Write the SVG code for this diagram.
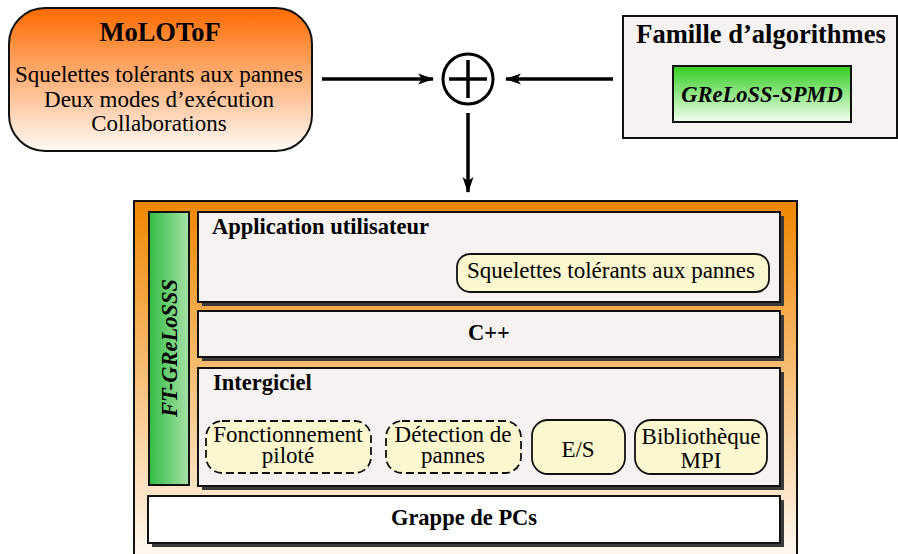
<svg xmlns="http://www.w3.org/2000/svg" width="898" height="554" viewBox="0 0 898 554">
<style>
text{font-family:"Liberation Serif","Times New Roman",serif;fill:#000;font-size:23px}
.b{font-weight:bold}
.bi{font-weight:bold;font-style:italic}
.m{text-anchor:middle}
.layer{fill:#f5f2f1;stroke:#111;stroke-width:2}
.shadow{fill:#3a3a3a}
.pill{fill:#fdf7cf;stroke:#111;stroke-width:1.8}
.dash{stroke-dasharray:8 4}
.conn{stroke:#000;stroke-width:3.5;fill:none}
</style>
<defs>
<linearGradient id="gOr" x1="0" y1="0" x2="0" y2="1"><stop offset="0" stop-color="#ff6a00"/><stop offset="1" stop-color="#fffaf6"/></linearGradient>
<linearGradient id="gOr2" x1="0" y1="0" x2="0" y2="1"><stop offset="0" stop-color="#f08600"/><stop offset="1" stop-color="#fffbf6"/></linearGradient>
<linearGradient id="gGr" x1="0" y1="0" x2="0" y2="1"><stop offset="0" stop-color="#33cc1f"/><stop offset="1" stop-color="#f2fff0"/></linearGradient>
<linearGradient id="gGrH" x1="0" y1="0" x2="1" y2="0"><stop offset="0" stop-color="#33bb44"/><stop offset="1" stop-color="#a6e2a6"/></linearGradient>
<marker id="ah" markerUnits="userSpaceOnUse" markerWidth="20" markerHeight="14" viewBox="-16 -7 18 14" refX="0" refY="0" orient="auto">
<path d="M1,0 L-15,-5.5 L-11,0 L-15,5.5 Z" fill="#000"/>
</marker>
</defs>

<g id="molotof">
<rect x="9" y="8" width="303" height="143" rx="36" fill="url(#gOr)" stroke="#111" stroke-width="2"/>
<text class="b m" x="160" y="41" style="font-size:26.5px">MoLOToF</text>
<text class="m" x="159" y="82">Squelettes tolérants aux pannes</text>
<text class="m" x="159" y="107">Deux modes d’exécution</text>
<text class="m" x="159" y="131">Collaborations</text>
</g>

<g id="plus">
<circle cx="468" cy="79" r="25" fill="#fff" stroke="#000" stroke-width="3"/>
<line x1="449" y1="79" x2="487" y2="79" stroke="#000" stroke-width="3.5"/>
<line x1="468" y1="60" x2="468" y2="98" stroke="#000" stroke-width="3.5"/>
</g>

<g id="famille">
<rect x="623" y="16" width="274" height="122" fill="#f5f2f1" stroke="#111" stroke-width="2"/>
<text class="b m" x="761" y="43" style="font-size:26.5px">Famille d’algorithmes</text>
<g id="greloss-spmd">
<rect x="673" y="66" width="178" height="56" fill="url(#gGr)" stroke="#111" stroke-width="2"/>
<text class="bi m" x="762" y="102" style="font-size:22.5px">GReLoSS-SPMD</text>
</g>
</g>

<g id="connectors">
<line class="conn" x1="322" y1="79" x2="433" y2="79" marker-end="url(#ah)"/>
<line class="conn" x1="613" y1="79" x2="506" y2="79" marker-end="url(#ah)"/>
<line class="conn" x1="468" y1="113" x2="468" y2="192" marker-end="url(#ah)"/>
</g>

<g id="ft-greloss-stack">
<rect x="134" y="201" width="663" height="362" fill="url(#gOr2)" stroke="#111" stroke-width="2"/>

<g id="ft-grelosss">
<rect x="149" y="212" width="40" height="273" fill="url(#gGrH)" stroke="#111" stroke-width="2"/>
<text class="bi m" transform="translate(177,348) rotate(-90)" x="0" y="0" style="font-size:22.5px">FT-GReLoSSS</text>
</g>

<g id="application">
<rect class="shadow" x="202" y="216" width="582" height="90"/>
<rect class="layer" x="198" y="212" width="582" height="90"/>
<text class="b" x="212" y="234" style="font-size:22.5px">Application utilisateur</text>
<g id="squelettes">
<rect class="pill" x="457" y="254" width="312" height="38" rx="13"/>
<text class="m" x="611" y="278">Squelettes tolérants aux pannes</text>
</g>
</g>

<g id="cpp">
<rect class="shadow" x="202" y="315" width="582" height="46"/>
<rect class="layer" x="198" y="311" width="582" height="46"/>
<text class="b m" x="489" y="340" style="font-size:22.5px">C++</text>
</g>

<g id="intergiciel">
<rect class="shadow" x="202" y="372" width="582" height="118"/>
<rect class="layer" x="198" y="368" width="582" height="118"/>
<text class="b" x="213" y="390" style="font-size:22.5px">Intergiciel</text>
<g id="fonctionnement">
<rect class="pill dash" x="206" y="421" width="165" height="52" rx="16"/>
<text class="m" x="288" y="442">Fonctionnement</text>
<text class="m" x="288" y="463">piloté</text>
</g>
<g id="detection">
<rect class="pill dash" x="386" y="421" width="135" height="52" rx="16"/>
<text class="m" x="453" y="442">Détection de</text>
<text class="m" x="453" y="463">pannes</text>
</g>
<g id="es">
<rect class="pill" x="532" y="420" width="93" height="54" rx="16"/>
<text class="m" x="578" y="457">E/S</text>
</g>
<g id="mpi">
<rect class="pill" x="635" y="420" width="132" height="54" rx="16"/>
<text class="m" x="701" y="444">Bibliothèque</text>
<text class="m" x="701" y="468">MPI</text>
</g>
</g>

<g id="grappe">
<rect class="shadow" x="152" y="500" width="632" height="47"/>
<rect x="148" y="496" width="632" height="47" fill="#fff" stroke="#111" stroke-width="2"/>
<text class="b m" x="464" y="525" style="font-size:22.5px">Grappe de PCs</text>
</g>
</g>
</svg>
